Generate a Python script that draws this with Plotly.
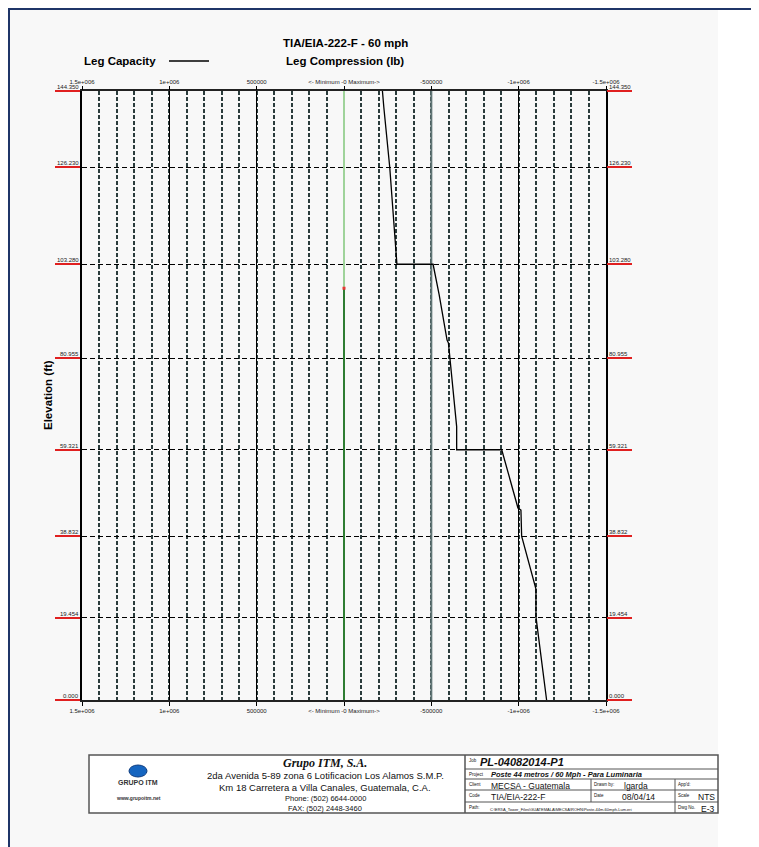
import plotly.graph_objects as go

# Leg compression profile (lb) vs elevation (ft)
elevation = [144.35, 140.5, 126.23, 103.28, 103.28, 96.0, 85.3, 84.6, 64.8, 59.321, 59.321,
             45.5, 45.0, 38.832, 26.3, 19.7, 0.0]
compression = [-220000, -228000, -262000, -303000, -510000, -545000, -590000, -598000, -645000,
               -645000, -903000, -996000, -1013000, -1017000, -1099000, -1099000, -1160000]

# zero line (leg capacity marker) split where the colour changes
zero_split = 97.6
zero_upper = [zero_split, 144.35]
zero_lower = [0.0, zero_split]

# axis ticks
x_ticks = [1500000, 1000000, 500000, 0, -500000, -1000000, -1500000]
x_labels = ["1.5e+006", "1e+006", "500000", "<- Minimum -0 Maximum->", "-500000", "-1e+006", "-1.5e+006"]
y_ticks = [0.0, 19.454, 38.832, 59.321, 80.955, 103.28, 126.23, 144.35]
y_labels = ["0.000", "19.454", "38.832", "59.321", "80.955", "103.280", "126.230", "144.350"]

# the page body adds an 8px margin, so the figure is made that much smaller
# and every position below is given in window pixels and shifted back
OFF = 8
W, H = 759 - OFF, 847 - OFF


def px(x):
    return (x - OFF) / W


def py(y):
    return 1 - (y - OFF) / H


FONT = "Liberation Sans"

fig = go.Figure()

fig.add_trace(go.Scatter(x=[0, 0], y=zero_upper, mode="lines",
                         line=dict(color="#9fd39a", width=2), showlegend=False, hoverinfo="skip"))
fig.add_trace(go.Scatter(x=[0, 0], y=zero_lower, mode="lines",
                         line=dict(color="#2e7d32", width=2), showlegend=False, hoverinfo="skip"))
fig.add_trace(go.Scatter(x=[0], y=[zero_split], mode="markers",
                         marker=dict(color="#e53935", size=3, symbol="square"),
                         showlegend=False, hoverinfo="skip"))
# -500000 major line is drawn greyer than the others
fig.add_trace(go.Scatter(x=[x_ticks[4], x_ticks[4]], y=[y_ticks[0], y_ticks[-1]], mode="lines",
                         line=dict(color="#5f7474", width=2), showlegend=False, hoverinfo="skip"))
fig.add_trace(go.Scatter(x=compression, y=elevation, mode="lines", name="Leg Compression",
                         line=dict(color="black", width=1.3), showlegend=False))
# dummy trace so the mirrored top / right axes get drawn
fig.add_trace(go.Scatter(x=compression, y=elevation, xaxis="x2", yaxis="y2", mode="lines",
                         line=dict(width=0), opacity=0, showlegend=False, hoverinfo="skip"))

tickfont = dict(family=FONT, size=6, color="#222")
fig.update_layout(
    width=W, height=H,
    margin=dict(l=0, r=0, t=0, b=0, pad=0),
    paper_bgcolor="white",
    plot_bgcolor="white",
    xaxis=dict(domain=[px(82), px(606)], range=[1500000, -1500000], automargin=False,
               tickvals=x_ticks, ticktext=x_labels, tickfont=tickfont,
               ticks="outside", ticklen=4, tickcolor="black",
               showgrid=True, gridcolor="black", gridwidth=1.3,
               minor=dict(dtick=100000, tick0=0, showgrid=True, gridcolor="#2a3c3c",
                          griddash="4px,2px", gridwidth=1.5),
               showline=True, linecolor="#222", linewidth=1.5, mirror=True,
               zeroline=False),
    xaxis2=dict(overlaying="x", matches="x", side="top", anchor="y2", automargin=False,
                tickvals=x_ticks, ticktext=x_labels, tickfont=tickfont,
                ticks="outside", ticklen=4, tickcolor="black", showgrid=False,
                zeroline=False),
    yaxis=dict(domain=[py(700), py(91)], range=[0, 144.35], automargin=False,
               tickvals=y_ticks, showticklabels=False,
               ticks="outside", ticklen=25, tickwidth=2, tickcolor="#e02020",
               showgrid=True, gridcolor="black", gridwidth=1.3, griddash="5px,3px",
               showline=True, linecolor="black", linewidth=1.5, mirror=True,
               zeroline=False),
    yaxis2=dict(overlaying="y", matches="y", side="right", anchor="x2", automargin=False,
                tickvals=y_ticks, showticklabels=False,
                ticks="outside", ticklen=25, tickwidth=2, tickcolor="#e02020",
                showgrid=False, zeroline=False),
)

ann = []
# elevation labels sitting on the red ticks, both sides
for v, t in zip(y_ticks, y_labels):
    ann.append(dict(x=px(81), y=v, xref="paper", yref="y", text=t,
                    xanchor="right", yanchor="bottom", yshift=-1, font=tickfont))
    ann.append(dict(x=px(607), y=v, xref="paper", yref="y", text=t,
                    xanchor="left", yanchor="bottom", yshift=-1, font=tickfont))

bold = dict(family=FONT, size=11.5, color="black")
ann += [
    dict(x=px(345), y=py(43), text="<b>TIA/EIA-222-F - 60 mph</b>", font=bold),
    dict(x=px(345), y=py(61), text="<b>Leg Compression (lb)</b>", font=bold),
    dict(x=px(82), y=py(61), text="<b>Leg Capacity</b>", font=bold, xanchor="left"),
    dict(x=px(48), y=py(395), text="<b>Elevation (ft)</b>", font=bold, textangle=-90),
]

# title block, left half
ann += [
    dict(x=px(325), y=py(763), text="<b><i>Grupo ITM, S.A.</i></b>",
         font=dict(family="Liberation Serif", size=12, color="#111")),
    dict(x=px(325), y=py(775), text="2da Avenida 5-89 zona 6 Lotificacion Los Alamos S.M.P.",
         font=dict(family=FONT, size=9.5, color="#111")),
    dict(x=px(325), y=py(787), text="Km 18 Carretera a Villa Canales, Guatemala, C.A.",
         font=dict(family=FONT, size=9.5, color="#111")),
    dict(x=px(325), y=py(798), text="Phone: (502) 6644-0000",
         font=dict(family=FONT, size=7.5, color="#111")),
    dict(x=px(325), y=py(808), text="FAX: (502) 2448-3460",
         font=dict(family=FONT, size=7.5, color="#111")),
    dict(x=px(138), y=py(782), text="<b>GRUPO ITM</b>",
         font=dict(family=FONT, size=7, color="#333")),
    dict(x=px(138), y=py(798), text="<b>www.grupoitm.net</b>",
         font=dict(family=FONT, size=5, color="#333")),
]

# title block, right half
small = dict(family=FONT, size=4.5, color="#111")
val = dict(family=FONT, size=8.5, color="#111")
ann += [
    dict(x=px(467), y=py(756), text="Job", font=small, xanchor="left", yanchor="top"),
    dict(x=px(478), y=py(762), text="<b><i>PL-04082014-P1</i></b>", xanchor="left",
         font=dict(family=FONT, size=11, color="#111")),
    dict(x=px(467), y=py(769.5), text="Project", font=small, xanchor="left", yanchor="top"),
    dict(x=px(489), y=py(774.5), text="<b><i>Poste 44 metros / 60 Mph - Para Luminaria</i></b>",
         xanchor="left", font=dict(family=FONT, size=7.5, color="#111")),
    dict(x=px(467), y=py(779.5), text="Client", font=small, xanchor="left", yanchor="top"),
    dict(x=px(489), y=py(785.5), text="MECSA - Guatemala", font=val, xanchor="left"),
    dict(x=px(592), y=py(779.5), text="Drawn by:", font=small, xanchor="left", yanchor="top"),
    dict(x=px(622), y=py(785.5), text="lgarda", font=val, xanchor="left"),
    dict(x=px(676), y=py(779.5), text="App'd:", font=small, xanchor="left", yanchor="top"),
    dict(x=px(467), y=py(790.5), text="Code", font=small, xanchor="left", yanchor="top"),
    dict(x=px(489), y=py(796.5), text="TIA/EIA-222-F", font=val, xanchor="left"),
    dict(x=px(592), y=py(790.5), text="Date", font=small, xanchor="left", yanchor="top"),
    dict(x=px(620), y=py(796.5), text="08/04/14", font=val, xanchor="left"),
    dict(x=px(676), y=py(790.5), text="Scale", font=small, xanchor="left", yanchor="top"),
    dict(x=px(717), y=py(796.5), text="NTS", font=val, xanchor="right"),
    dict(x=px(467), y=py(802.5), text="Path:", font=small, xanchor="left", yanchor="top"),
    dict(x=px(488), y=py(809), text="C:\\ERI\\A_Tower_Files\\GUATEMALA\\MECSA\\ROHN\\Poste-44m-60mph-Lum.eri",
         font=dict(family=FONT, size=4, color="#111"), xanchor="left"),
    dict(x=px(676), y=py(802.5), text="Dwg No.", font=small, xanchor="left", yanchor="top"),
    dict(x=px(717), y=py(809), text="E-3", font=val, xanchor="right"),
]
for a in ann:
    a.setdefault("xref", "paper")
    a.setdefault("yref", "paper")
    a.setdefault("xanchor", "center")
    a.setdefault("yanchor", "middle")
    a["showarrow"] = False
fig.update_layout(annotations=ann)

line = dict(color="#555", width=1.5)
thin = dict(color="#555", width=1)
shapes = [
    # page sheet and frame (frame pulled in to the figure edge)
    dict(type="rect", x0=px(9), x1=px(718), y0=0, y1=1, fillcolor="#f8f8f8",
         line=dict(width=0), layer="below"),
    dict(type="line", x0=0, x1=1, y0=py(9), y1=py(9), line=dict(color="#1f3568", width=2)),
    dict(type="line", x0=px(9), x1=px(9), y0=0, y1=1, line=dict(color="#1f3568", width=2)),
    # legend swatch for Leg Capacity
    dict(type="line", x0=px(169), x1=px(209), y0=py(61), y1=py(61), line=dict(color="black", width=1.3)),
    # title block
    dict(type="rect", x0=px(89), x1=px(718), y0=py(813), y1=py(755), fillcolor="white", line=line,
         layer="below"),
    dict(type="line", x0=px(465), x1=px(465), y0=py(813), y1=py(755), line=line),
    dict(type="line", x0=px(465), x1=px(718), y0=py(769), y1=py(769), line=thin),
    dict(type="line", x0=px(465), x1=px(718), y0=py(779), y1=py(779), line=thin),
    dict(type="line", x0=px(465), x1=px(718), y0=py(790), y1=py(790), line=thin),
    dict(type="line", x0=px(465), x1=px(718), y0=py(802), y1=py(802), line=thin),
    dict(type="line", x0=px(591), x1=px(591), y0=py(802), y1=py(779), line=thin),
    dict(type="line", x0=px(675), x1=px(675), y0=py(813), y1=py(779), line=thin),
    # logo mark
    dict(type="circle", x0=px(129), x1=px(147), y0=py(777), y1=py(765),
         fillcolor="#1565c0", line=dict(color="#0d3c80", width=1)),
]
for s in shapes:
    s["xref"] = "paper"
    s["yref"] = "paper"
fig.update_layout(shapes=shapes)

fig.write_html("out.html")
